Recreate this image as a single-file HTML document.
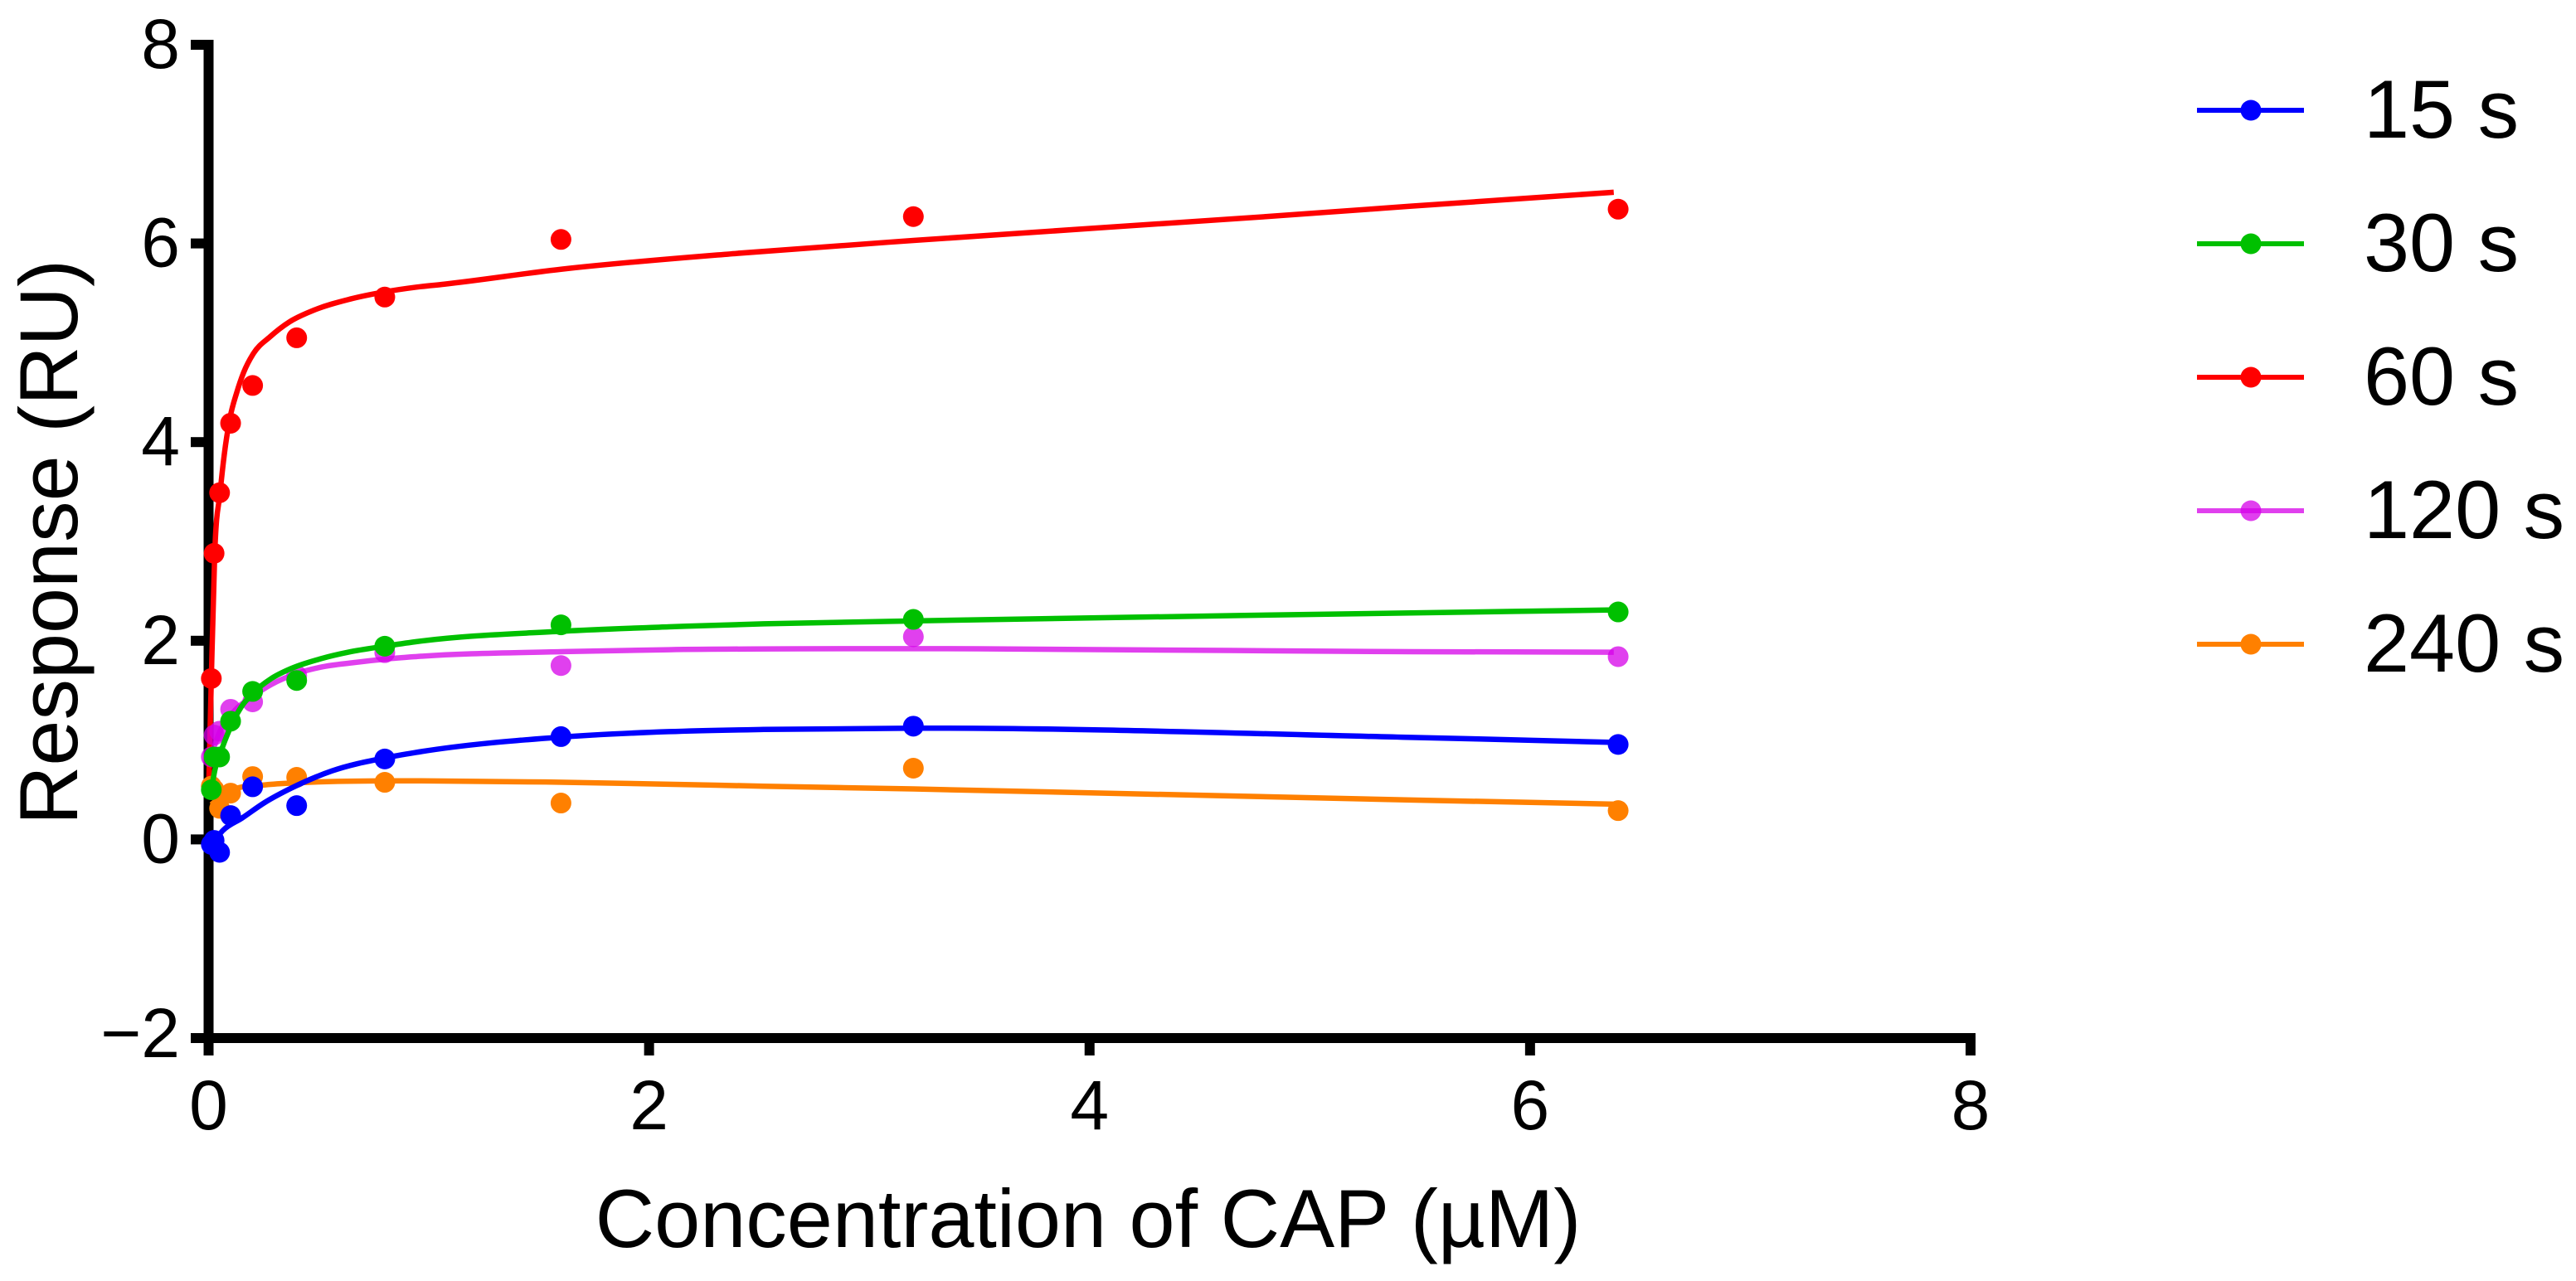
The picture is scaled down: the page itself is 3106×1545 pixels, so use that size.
<!DOCTYPE html>
<html>
<head>
<meta charset="utf-8">
<title>Response vs Concentration of CAP</title>
<style>
html,body{margin:0;padding:0;background:#fff;width:3106px;height:1545px;overflow:hidden}
svg{display:block;font-family:"Liberation Sans",Arial,sans-serif}
</style>
</head>
<body>
<svg id="chart" xmlns="http://www.w3.org/2000/svg" width="3106" height="1545" viewBox="0 0 3106 1545">
  <rect x="0" y="0" width="3106" height="1545" fill="#ffffff"/>
  <g id="axes"></g>
  <g id="series"></g>
  <text transform="translate(93,654) rotate(-90)" text-anchor="middle" font-size="99" fill="#000">Response (RU)</text>
  <text x="1312" y="1504" text-anchor="middle" font-size="99" fill="#000">Concentration of CAP (µM)</text>
  <g id="legend"></g>
</svg>
<script>
var xTicks = [0, 2, 4, 6, 8];
var yTicks = [-2, 0, 2, 4, 6, 8];
var yTickLabels = ['\u22122', '0', '2', '4', '6', '8'];
var xTickLabels = ['0', '2', '4', '6', '8'];

var concentrations = [0.0125, 0.025, 0.05, 0.1, 0.2, 0.4, 0.8, 1.6, 3.2, 6.4];

var points15 = [-0.05, -0.01, -0.13, 0.24, 0.53, 0.34, 0.81, 1.035, 1.14, 0.956];
var points30 = [0.50, 0.83, 0.83, 1.19, 1.49, 1.60, 1.945, 2.16, 2.215, 2.29];
var points60 = [1.62, 2.88, 3.49, 4.19, 4.57, 5.05, 5.46, 6.04, 6.27, 6.345];
var points120 = [0.83, 1.05, 1.09, 1.31, 1.385, 1.65, 1.88, 1.75, 2.04, 1.84];
var points240 = [0.536, 0.50, 0.313, 0.466, 0.633, 0.625, 0.575, 0.366, 0.717, 0.29];

var curve15X = [0.012, 0.03, 0.065, 0.152, 0.254, 0.379, 0.561, 0.8, 0.94, 1.6, 2.09, 2.52, 3.2, 5.46, 6.38];
var curve15Y = [-0.04, 0.0, 0.09, 0.215, 0.37, 0.52, 0.69, 0.82, 0.875, 1.03, 1.085, 1.107, 1.12, 1.027, 0.977];

var curve30X = [0.0125, 0.0277, 0.065, 0.147, 0.2, 0.285, 0.374, 0.511, 0.637, 0.8, 0.94, 1.6, 2.09, 2.52, 3.2, 5.46, 6.38];
var curve30Y = [0.50, 0.69, 0.94, 1.33, 1.47, 1.62, 1.72, 1.82, 1.886, 1.945, 1.99, 2.095, 2.14, 2.17, 2.20, 2.28, 2.31];

var curve60X = [0.001, 0.0125, 0.0275, 0.0527, 0.0716, 0.0968, 0.128, 0.159, 0.203, 0.279, 0.367, 0.48, 0.643, 0.794, 0.944, 1.07, 1.6, 2.4, 3.2, 4.8, 5.46, 6.38];
var curve60Y = [0.55, 1.62, 2.85, 3.5, 3.88, 4.24, 4.50, 4.70, 4.89, 5.06, 5.21, 5.33, 5.44, 5.51, 5.56, 5.59, 5.74, 5.90, 6.03, 6.27, 6.375, 6.515];

var curve120X = [0.0125, 0.05, 0.12, 0.2, 0.285, 0.4, 0.511, 0.66, 0.8, 0.94, 1.6, 2.09, 3.2, 5.46, 6.38];
var curve120Y = [0.85, 1.08, 1.30, 1.44, 1.56, 1.67, 1.735, 1.78, 1.815, 1.84, 1.89, 1.91, 1.92, 1.89, 1.885];

var curve240X = [0.0125, 0.05, 0.1, 0.247, 0.4, 0.8, 0.94, 1.53, 2.09, 2.52, 3.2, 5.46, 6.38];
var curve240Y = [0.35, 0.42, 0.49, 0.547, 0.57, 0.59, 0.59, 0.578, 0.555, 0.536, 0.508, 0.397, 0.355];

var seriesLabels = ['15 s', '30 s', '60 s', '120 s', '240 s'];

var SVG_NS = 'http://www.w3.org/2000/svg';
var axisX = function (v) { return 251.5 + 265.56 * v; };
var axisY = function (v) { return 1012.4 - 119.8 * v; };

var axes = document.getElementById('axes');
var seriesLayer = document.getElementById('series');
var legend = document.getElementById('legend');

function rect(x, y, w, h) {
  var r = document.createElementNS(SVG_NS, 'rect');
  r.setAttribute('x', x);
  r.setAttribute('y', y);
  r.setAttribute('width', w);
  r.setAttribute('height', h);
  r.setAttribute('fill', '#000');
  return r;
}

function label(x, y, anchor, size, content) {
  var t = document.createElementNS(SVG_NS, 'text');
  t.setAttribute('x', x);
  t.setAttribute('y', y);
  t.setAttribute('text-anchor', anchor);
  t.setAttribute('font-size', size);
  t.setAttribute('fill', '#000');
  t.textContent = content;
  return t;
}

var yAxisLine = rect(axisX(0) - 6, axisY(8) - 6, 12, 1273 - (axisY(8) - 6));


axes.appendChild(yAxisLine);

var xAxisLine = rect(230, axisY(-2) - 6, axisX(8) + 6 - 230, 12);


axes.appendChild(xAxisLine);

yTicks.forEach(function (v, i) {
  var tick = rect(230, axisY(v) - 6, 20, 12);
  
  
  axes.appendChild(tick);
  var text = label(217, Math.min(axisY(v) + 28, 1275), 'end', 84, yTickLabels[i]);
  
  
  axes.appendChild(text);
});

xTicks.forEach(function (v, i) {
  var tick = rect(axisX(v) - 6, 1250, 12, 23);
  
  
  axes.appendChild(tick);
  var text = label(axisX(v), 1362, 'middle', 84, xTickLabels[i]);
  
  
  axes.appendChild(text);
});

function smoothPath(xs, ys) {
  var px = xs.map(axisX);
  var py = ys.map(axisY);
  var n = px.length;
  var slopes = [];
  var i;
  for (i = 0; i < n - 1; i++) {
    slopes.push((py[i + 1] - py[i]) / (px[i + 1] - px[i]));
  }
  var tangents = [slopes[0]];
  for (i = 1; i < n - 1; i++) {
    var h0 = px[i] - px[i - 1];
    var h1 = px[i + 1] - px[i];
    tangents.push((h1 * slopes[i - 1] + h0 * slopes[i]) / (h0 + h1));
  }
  tangents.push(slopes[n - 2]);
  var d = 'M' + px[0].toFixed(2) + ' ' + py[0].toFixed(2);
  for (i = 0; i < n - 1; i++) {
    var h = (px[i + 1] - px[i]) / 3;
    d += 'C' + (px[i] + h).toFixed(2) + ' ' + (py[i] + h * tangents[i]).toFixed(2) + ' ' +
      (px[i + 1] - h).toFixed(2) + ' ' + (py[i + 1] - h * tangents[i + 1]).toFixed(2) + ' ' +
      px[i + 1].toFixed(2) + ' ' + py[i + 1].toFixed(2);
  }
  return d;
}

function drawSeries(name, color, opacity, pts, cx, cy) {
  var g = document.createElementNS(SVG_NS, 'g');
  
  
  pts.forEach(function (v, i) {
    var c = document.createElementNS(SVG_NS, 'circle');
    
    
    c.setAttribute('cx', axisX(concentrations[i]));
    c.setAttribute('cy', axisY(v));
    c.setAttribute('r', 12.5);
    c.setAttribute('fill', color);
    c.setAttribute('fill-opacity', opacity);
    g.appendChild(c);
  });
  var p = document.createElementNS(SVG_NS, 'path');
  
  
  p.setAttribute('d', smoothPath(cx, cy));
  p.setAttribute('fill', 'none');
  p.setAttribute('stroke', color);
  p.setAttribute('stroke-opacity', opacity);
  p.setAttribute('stroke-width', 6.5);
  g.insertBefore(p, g.firstChild);
  seriesLayer.appendChild(g);
}

drawSeries('60s', '#ff0000', 1, points60, curve60X, curve60Y);
drawSeries('120s', 'rgb(213,0,232)', 0.75, points120, curve120X, curve120Y);
drawSeries('240s', '#ff8000', 1, points240, curve240X, curve240Y);
drawSeries('30s', '#00c000', 1, points30, curve30X, curve30Y);
drawSeries('15s', '#0000ff', 1, points15, curve15X, curve15Y);

var legendColors = ['#0000ff', '#00c000', '#ff0000', 'rgb(213,0,232)', '#ff8000'];
var legendOpacities = [1, 1, 1, 0.75, 1];
seriesLabels.forEach(function (name, i) {
  var rowY = 133 + 161 * i;
  var row = document.createElementNS(SVG_NS, 'g');
  
  
  var m = document.createElementNS(SVG_NS, 'circle');
  
  
  m.setAttribute('cx', 2714);
  m.setAttribute('cy', rowY);
  m.setAttribute('r', 12.5);
  m.setAttribute('fill', legendColors[i]);
  m.setAttribute('fill-opacity', legendOpacities[i]);
  row.appendChild(m);
  var l = document.createElementNS(SVG_NS, 'rect');
  
  
  l.setAttribute('x', 2649);
  l.setAttribute('y', rowY - 3);
  l.setAttribute('width', 129);
  l.setAttribute('height', 6);
  l.setAttribute('fill', legendColors[i]);
  l.setAttribute('fill-opacity', legendOpacities[i]);
  row.appendChild(l);
  var t = label(2850, rowY + 33, 'start', 99, name);
  
  
  row.appendChild(t);
  legend.appendChild(row);
});
</script>
</body>
</html>
